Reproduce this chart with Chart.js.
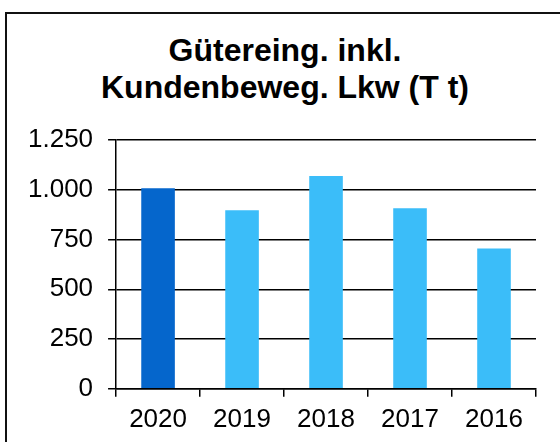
<!DOCTYPE html>
<html>
<head>
<meta charset="utf-8">
<script src="https://cdn.jsdelivr.net/npm/chart.js@4"></script>
<style>
  html, body { margin: 0; padding: 0; background: #fff; overflow: hidden; }
  #wrap { position: relative; width: 560px; height: 442px; }
  #rahmen { position: absolute; left: 5px; top: 12px; width: 600px; height: 500px; border: 2px solid #111; box-sizing: border-box; }
  #titel { position: absolute; left: 35px; top: 32px; width: 500px; text-align: center;
           font: bold 32px "Liberation Sans", Arial, sans-serif; line-height: 37px; color: #000; }
  canvas { position: absolute; left: 0; top: 0; }
</style>
</head>
<body>
<div id="wrap">
  <div id="rahmen"></div>
  <div id="titel">Gütereing. inkl.<br>Kundenbeweg. Lkw (T t)</div>
  <canvas id="chart" width="560" height="442"></canvas>
</div>
<script>
// daten
const jahre = ['2020', '2019', '2018', '2017', '2016'];
const werte = [1008, 897, 1069, 907, 705];
const farben = ['#0566cc', '#3bbdf9', '#3bbdf9', '#3bbdf9', '#3bbdf9'];
const yTicks = [0, 250, 500, 750, 1000, 1250];

const schrift = { family: '"Liberation Sans", Arial, sans-serif', size: 26 };

new Chart(document.getElementById('chart'), {
  type: 'bar',
  data: {
    labels: jahre,
    datasets: [{
      data: werte,
      backgroundColor: farben,
      barPercentage: 0.4,
      categoryPercentage: 1
    }]
  },
  options: {
    responsive: false,
    animation: false,
    layout: { padding: { left: 13, right: 24, top: 140, bottom: 0 } },
    plugins: { legend: { display: false }, tooltip: { enabled: false }, title: { display: false } },
    scales: {
      x: {
        grid: { display: true, drawOnChartArea: false, color: '#000', lineWidth: 1.5, tickLength: 8 },
        border: { color: '#000', width: 1.5 },
        ticks: { color: '#000', font: schrift, padding: 7, maxRotation: 0 }
      },
      y: {
        min: 0,
        max: 1250,
        afterBuildTicks: axis => { axis.ticks = yTicks.map(v => ({ value: v })); },
        grid: { color: '#000', lineWidth: 1.5, tickLength: 8 },
        border: { color: '#000', width: 1.5 },
        ticks: {
          color: '#000',
          font: schrift,
          padding: 15,
          callback: v => v.toLocaleString('de-DE')
        }
      }
    }
  }
});
</script>
</body>
</html>
